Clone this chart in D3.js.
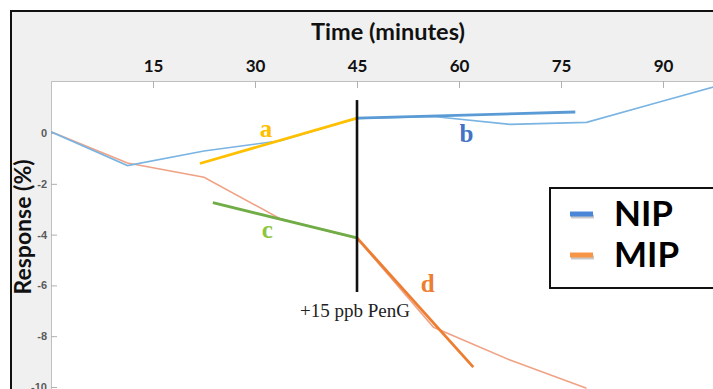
<!DOCTYPE html>
<html>
<head>
<meta charset="utf-8">
<script src="https://cdn.jsdelivr.net/npm/d3@7"></script>
<style>
  body { margin: 0; background: #fff; }
  svg { display: block; }
  .sans { font-family: Lato, "Open Sans", sans-serif; font-weight: bold; }
  .serif { font-family: "Liberation Serif", "DejaVu Serif", serif; }
</style>
</head>
<body>
<svg width="713" height="389"></svg>
<script>
// sampled every 11.25 min
const times = [0, 11.25, 22.5, 33.75, 45, 56.25, 67.5, 78.75, 90, 101.25];
const nipValues = [0.05, -1.28, -0.71, -0.3, 0.58, 0.65, 0.34, 0.42, 1.26, 2.1];
const mipValues = [0.05, -1.18, -1.74, -3.38, -4.15, -7.65, -8.94, -10.05];

// fitted segments [time, response]
const fitA = [[21.9, -1.2], [45, 0.59]];
const fitB = [[45, 0.59], [77.1, 0.83]];
const fitC = [[23.8, -2.74], [45, -4.13]];
const fitD = [[45, -4.13], [62.1, -9.22]];

const xTicks = [15, 30, 45, 60, 75, 90];
const yTicks = [0, -2, -4, -6, -8, -10];

const injection = { t: 45, top: 1.3, bottom: -6.26, label: "+15 ppb PenG", lt: 44.7, lv: -7.24 };
const fitLabels = [
  { text: "a", t: 31.6, v: -0.15, color: "#ffc000" },
  { text: "b", t: 61.1, v: -0.34, color: "#4472c4" },
  { text: "c", t: 31.8, v: -4.13, color: "#8cc63f" },
  { text: "d", t: 55.4, v: -6.26, color: "#ed7d31" }
];
const legendItems = [
  { name: "NIP", color: "#4a86d8" },
  { name: "MIP", color: "#f79646" }
];

const svg = d3.select("svg");
const width = +svg.attr("width");
const height = +svg.attr("height");
const margin = { top: 81, left: 51 };

// outer frame
svg.append("rect")
  .attr("x", 11).attr("y", 11)
  .attr("width", width).attr("height", height)
  .attr("fill", "#f0f0f0")
  .attr("stroke", "#111")
  .attr("stroke-width", 2);

svg.append("rect")
  .attr("x", margin.left).attr("y", margin.top)
  .attr("width", width - margin.left).attr("height", height - margin.top)
  .attr("fill", "#fff");

const x = d3.scaleLinear().domain([0, 97.35]).range([margin.left, width]);
const y = d3.scaleLinear().domain([-10.08, 2.05]).range([height, margin.top]);

svg.append("clipPath").attr("id", "plot")
  .append("rect")
  .attr("x", margin.left).attr("y", margin.top)
  .attr("width", width - margin.left).attr("height", height - margin.top);

// axes
const xAxisG = svg.append("g")
  .attr("transform", `translate(0,${margin.top})`)
  .call(d3.axisTop(x).tickValues(xTicks).tickSize(-7).tickPadding(9));
xAxisG.select(".domain").attr("stroke", "#c0c0c0");
xAxisG.selectAll(".tick line").attr("stroke", "#b0b0b0");
xAxisG.selectAll(".tick text")
  .attr("class", "sans")
  .attr("font-size", 17)
  .attr("fill", "#111");

const yAxisG = svg.append("g")
  .attr("transform", `translate(${margin.left},0)`)
  .call(d3.axisLeft(y).tickValues(yTicks).tickSize(-6).tickPadding(4).tickFormat(d => String(d)));
yAxisG.select(".domain").attr("stroke", "#c0c0c0");
yAxisG.selectAll(".tick line").attr("stroke", "#b0b0b0");
yAxisG.selectAll(".tick text")
  .attr("font-family", "'Liberation Sans', Arial, sans-serif")
  .attr("font-weight", "bold")
  .attr("font-size", 11)
  .attr("fill", "#5a5a5a");

svg.append("text")
  .attr("class", "sans")
  .attr("x", 388).attr("y", 40)
  .attr("text-anchor", "middle")
  .attr("font-size", 23.5)
  .attr("fill", "#111")
  .text("Time (minutes)");

svg.append("text")
  .attr("class", "sans")
  .attr("transform", "translate(31,227) rotate(-90)")
  .attr("text-anchor", "middle")
  .attr("font-size", 23)
  .attr("fill", "#111")
  .text("Response (%)");

// data lines
const plotG = svg.append("g").attr("clip-path", "url(#plot)");
const line = d3.line().x(d => x(d[0])).y(d => y(d[1]));

plotG.append("path")
  .datum(mipValues.map((v, i) => [times[i], v]))
  .attr("d", line)
  .attr("fill", "none")
  .attr("stroke", "#f0a285")
  .attr("stroke-width", 1.6);

plotG.append("path")
  .datum(nipValues.map((v, i) => [times[i], v]))
  .attr("d", line)
  .attr("fill", "none")
  .attr("stroke", "#7ab4e2")
  .attr("stroke-width", 1.6);

const fits = [
  { pts: fitA, color: "#ffc000" },
  { pts: fitB, color: "#5b9bd5" },
  { pts: fitC, color: "#70ad47" },
  { pts: fitD, color: "#ed7d31" }
];
plotG.selectAll(".fit").data(fits).enter()
  .append("path")
  .attr("class", "fit")
  .attr("d", d => line(d.pts))
  .attr("fill", "none")
  .attr("stroke", d => d.color)
  .attr("stroke-width", 2.8);

// injection marker
svg.append("line")
  .attr("x1", x(injection.t)).attr("x2", x(injection.t))
  .attr("y1", y(injection.top)).attr("y2", y(injection.bottom))
  .attr("stroke", "#111")
  .attr("stroke-width", 2.6);

svg.append("text")
  .attr("class", "serif")
  .attr("x", x(injection.lt)).attr("y", y(injection.lv))
  .attr("text-anchor", "middle")
  .attr("font-size", 19)
  .attr("fill", "#222")
  .text(injection.label);

svg.selectAll(".fitlabel").data(fitLabels).enter()
  .append("text")
  .attr("class", "serif fitlabel")
  .attr("x", d => x(d.t)).attr("y", d => y(d.v))
  .attr("text-anchor", "middle")
  .attr("font-size", 25)
  .attr("font-weight", "bold")
  .attr("fill", d => d.color)
  .text(d => d.text);

// legend
const legendG = svg.append("g").attr("transform", "translate(550,188)");
legendG.append("rect")
  .attr("width", 200).attr("height", 100)
  .attr("fill", "#fff")
  .attr("stroke", "#111")
  .attr("stroke-width", 2);

const items = legendG.selectAll(".legend").data(legendItems).enter()
  .append("g")
  .attr("class", "legend")
  .attr("transform", (d, i) => `translate(0,${26 + i * 41})`);

items.append("line")
  .attr("x1", 21).attr("x2", 44)
  .attr("y1", 2.5).attr("y2", 2.5)
  .attr("stroke", "#c8c8c8")
  .attr("stroke-width", 4);
items.append("line")
  .attr("x1", 20).attr("x2", 43)
  .attr("stroke", d => d.color)
  .attr("stroke-width", 5);

items.append("text")
  .attr("class", "sans")
  .attr("x", 64).attr("y", 12)
  .attr("font-size", 35)
  .attr("fill", "#000")
  .text(d => d.name);
</script>
</body>
</html>
